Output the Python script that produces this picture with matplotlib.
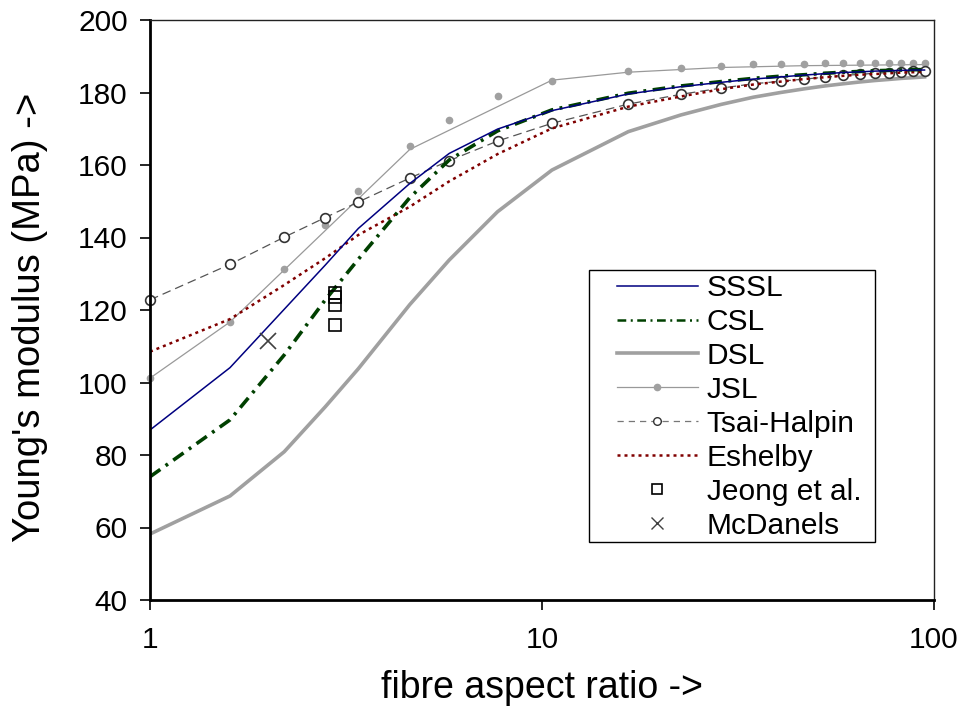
import matplotlib
matplotlib.use("Agg")
import matplotlib.pyplot as plt
from matplotlib.lines import Line2D
from matplotlib.patches import Rectangle

plt.rcParams['font.family'] = ['Liberation Sans', 'DejaVu Sans']

#====================DATA====================

aspect_ratio = [1.0, 1.6, 2.2, 2.8, 3.4, 4.6, 5.8, 7.7, 10.6, 16.6, 22.6, 28.6,
                34.6, 40.6, 46.6, 52.6, 58.6, 64.6, 70.6, 76.6, 82.6, 88.6, 94.6]

sssl = [86.9, 104.1, 120.2, 132.4, 142.5, 154.9, 163.2, 169.9, 175.0, 179.6, 181.6, 182.8,
        183.7, 184.3, 184.8, 185.2, 185.5, 185.7, 185.9, 186.0, 186.1, 186.2, 186.2]
csl = [74.0, 89.7, 107.6, 122.8, 134.0, 151.0, 161.4, 169.4, 175.2, 179.8, 181.8, 183.0,
       183.9, 184.5, 184.9, 185.3, 185.6, 185.8, 186.0, 186.1, 186.2, 186.3, 186.3]
dsl = [58.2, 68.7, 80.9, 93.3, 103.8, 121.5, 133.8, 147.1, 158.6, 169.2, 173.8, 176.7,
       178.7, 180.0, 181.0, 181.8, 182.4, 182.9, 183.3, 183.6, 183.9, 184.1, 184.3]
jsl_points = [101.2, 116.7, 131.3, 143.4, 152.9, 165.2, 172.3, 178.9, 183.3, 186.0, 186.8, 187.4,
              187.8, 187.9, 188.0, 188.1, 188.1, 188.1, 188.1, 188.1, 188.1, 188.1, 188.1]
tsai_halpin = [122.8, 132.6, 140.1, 145.5, 149.8, 156.4, 161.2, 166.6, 171.5, 176.8, 179.5, 181.2,
               182.4, 183.1, 183.7, 184.2, 184.7, 185.0, 185.3, 185.5, 185.7, 185.9, 186.0]
eshelby = [108.5, 117.5, 126.9, 134.3, 140.7, 148.5, 155.5, 163.0, 170.1, 176.1, 178.9, 180.9,
           182.2, 183.0, 183.7, 184.2, 184.6, 184.9, 185.1, 185.3, 185.5, 185.6, 185.7]

# JSL curve has its own (coarser) vertices
jsl_line_x = [1.0, 1.6, 4.6, 10.6, 16.6, 28.6, 46.6, 94.6]
jsl_line_y = [101.2, 116.7, 164.3, 183.4, 185.6, 186.9, 187.4, 187.7]

jeong_x = [2.97, 2.97, 2.97, 2.97]
jeong_y = [124.8, 123.5, 121.3, 115.9]

mcdanels_x = [2.0]
mcdanels_y = [111.5]

labels = ['SSSL', 'CSL', 'DSL', 'JSL', 'Tsai-Halpin', 'Eshelby', 'Jeong et al.', 'McDanels']

#====================PLOT====================

fs = 21.5
fig = plt.figure(figsize=(9.65, 7.15), dpi=100)
ax = fig.add_axes([150 / 965, 1 - 600 / 715, (934 - 150) / 965, (600 - 20) / 715])

ax.plot(aspect_ratio, dsl, color='#a0a0a0', lw=2.6)
ax.plot(jsl_line_x, jsl_line_y, color='#999999', lw=0.9)
ax.plot(aspect_ratio, jsl_points, ls='none', marker='o', ms=4.5, color='#a0a0a0', clip_on=False)
ax.plot(aspect_ratio, tsai_halpin, color='#555555', lw=0.9, ls=(0, (7, 4)),
        marker='o', ms=7, mfc='white', mec='#333333', mew=1.2, clip_on=False)
ax.plot(aspect_ratio, eshelby, color='#800000', lw=1.8, ls=(0, (1.2, 1.6)))
ax.plot(aspect_ratio, csl, color='#004000', lw=2.6, ls=(0, (3.5, 1.8, 0.8, 1.8)))
ax.plot(aspect_ratio, sssl, color='#000080', lw=1.1)
ax.plot(jeong_x, jeong_y, ls='none', marker='s', ms=8, mfc='none', mec='black', mew=1.2)
ax.plot(mcdanels_x, mcdanels_y, ls='none', marker='x', ms=11, mec='#404040', mew=1.2)

ax.set_xscale('log')
ax.set_xlim(1, 100)
ax.set_ylim(40, 200)
ax.set_xticks([1, 10, 100])
ax.set_xticklabels(['1', '10', '100'])
ax.xaxis.set_minor_locator(matplotlib.ticker.NullLocator())
ax.set_yticks(range(40, 201, 20))

ax.tick_params(axis='both', labelsize=fs, length=7, width=1.2, direction='out')
ax.tick_params(axis='y', pad=9)
ax.tick_params(axis='x', pad=12)
for side in ['left', 'bottom']:
    ax.spines[side].set_linewidth(2)
for side in ['top', 'right']:
    ax.spines[side].set_linewidth(1)
    ax.spines[side].set_color('#222222')

ax.set_xlabel('fibre aspect ratio ->', fontsize=27, va='center')
ax.set_ylabel("Young's modulus (MPa) ->", fontsize=27.5, va='center')
ax.xaxis.set_label_coords(0.5, -0.152)
ax.yaxis.set_label_coords(-0.153, 0.487)

#====================LEGEND====================

handles = [
    Line2D([], [], color='#000080', lw=1.1),
    Line2D([], [], color='#004000', lw=1.8, ls=(0, (3.5, 1.8, 0.8, 1.8))),
    Line2D([], [], color='#a0a0a0', lw=2.6),
    Line2D([], [], color='#999999', lw=0.9, marker='o', ms=4.5, mfc='#a0a0a0', mec='#a0a0a0'),
    Line2D([], [], color='#777777', lw=0.9, ls=(0, (5, 4)), marker='o', ms=5.5, mfc='white', mec='#333333'),
    Line2D([], [], color='#800000', lw=1.8, ls=(0, (1.2, 1.6))),
    Line2D([], [], ls='none', marker='s', ms=7, mfc='none', mec='black', mew=1.2),
    Line2D([], [], ls='none', marker='x', ms=9, mec='#404040', mew=1.0),
]

# plain rectangular legend box, drawn under the legend entries
box = Rectangle((589 / 965, 1 - 542 / 715), (875 - 589) / 965, (542 - 270) / 715,
                transform=fig.transFigure, facecolor='white', edgecolor='black',
                lw=1.0, zorder=4, clip_on=False)
ax.add_patch(box)

leg = ax.legend(handles, labels, loc='upper left', bbox_to_anchor=(617 / 965, 1 - 274 / 715),
                bbox_transform=fig.transFigure, fontsize=fs, frameon=False,
                handlelength=2.7, handletextpad=0.3, labelspacing=0.2, borderpad=0,
                borderaxespad=0)
leg.set_zorder(5)

fig.savefig('out.png', dpi=100)
